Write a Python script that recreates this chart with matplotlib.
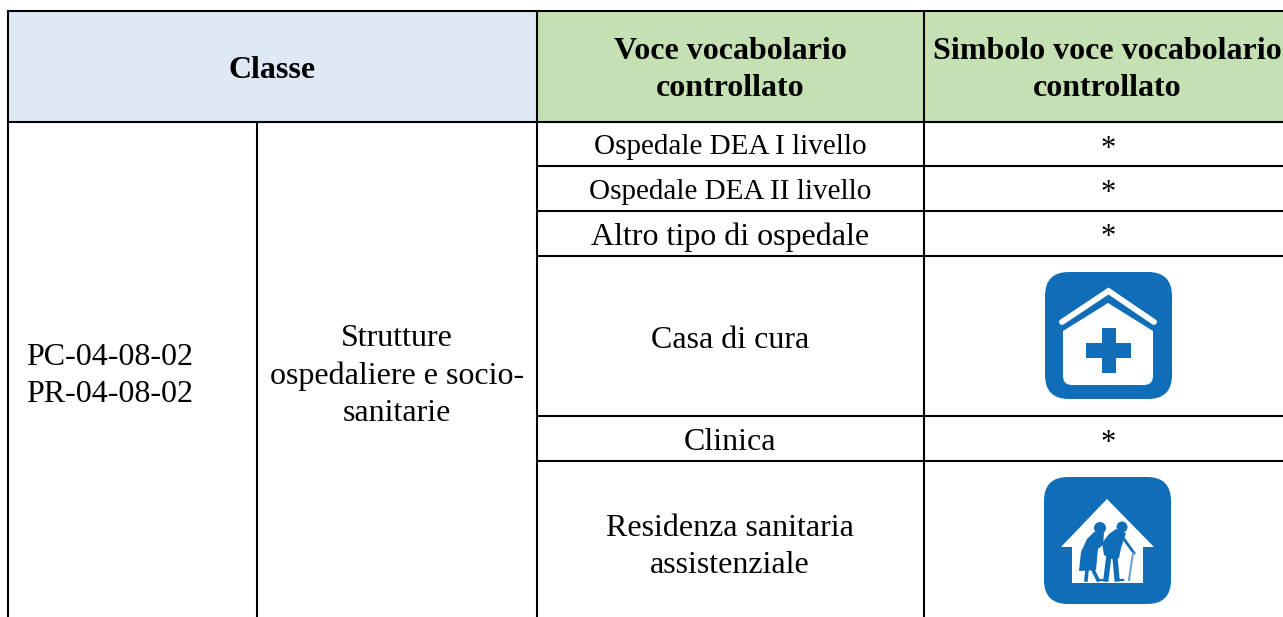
import matplotlib
matplotlib.use('Agg')
import matplotlib.pyplot as plt
from matplotlib.patches import Rectangle, FancyBboxPatch, Polygon, Circle
from matplotlib.lines import Line2D

plt.rcParams['font.family'] = ['Liberation Serif', 'DejaVu Serif']

header_class = "Classe"
header_voice = "Voce vocabolario\ncontrollato"
header_symbol = "Simbolo voce vocabolario\ncontrollato"
codes = "PC-04-08-02\nPR-04-08-02"
category = "Strutture\nospedaliere e socio-\nsanitarie"
voices = ["Ospedale DEA I livello", "Ospedale DEA II livello", "Altro tipo di ospedale",
          "Casa di cura", "Clinica", "Residenza sanitaria\nassistenziale"]
voice_sizes = [21, 21, 23, 23, 23, 23]
voice_y = [147, 192, 237, 340, 442, 547]
symbols = ["*", "*", "*", None, "*", None]
symbol_y = [149, 194, 238, None, 443, None]

BLUE = '#dee9f5'
GREEN = '#c5e0b3'
ICON = '#106db8'
LW = 1.5
LS = 1.37

fig = plt.figure(figsize=(12.83, 6.17), dpi=100)
ax = fig.add_axes([0, 0, 1, 1])
ax.set_xlim(0, 1283)
ax.set_ylim(617, 0)
ax.axis('off')

ax.add_patch(Rectangle((8, 10), 529, 112, fc=BLUE, ec='none'))
ax.add_patch(Rectangle((537, 10), 746, 112, fc=GREEN, ec='none'))

def hl(y, x0, x1, lw=LW):
    ax.add_line(Line2D([x0, x1], [y, y], color='black', lw=lw, solid_capstyle='butt'))
def vl(x, y0, y1, lw=LW):
    ax.add_line(Line2D([x, x], [y0, y1], color='black', lw=lw, solid_capstyle='butt'))

hl(10.5, 7, 1283)
hl(121.5, 7, 1283)
vl(8, 10, 617)
vl(257, 121, 617)
vl(537, 10, 617)
vl(924, 10, 617)
for y in [166, 211, 256, 416, 461]:
    hl(y, 537, 1283)

ax.text(272, 70, header_class, ha='center', va='center', fontsize=23, fontweight='bold')
ax.text(730, 70, header_voice, ha='center', va='center', fontsize=23, fontweight='bold', linespacing=LS)
ax.text(1107, 70, header_symbol, ha='center', va='center', fontsize=23, fontweight='bold', linespacing=LS)
ax.text(26, 376, codes, ha='left', va='center', fontsize=23, linespacing=LS)
ax.text(397, 376, category, ha='center', va='center', fontsize=23, linespacing=LS)

for t, y, s in zip(voices, voice_y, voice_sizes):
    ax.text(730, y, t, ha='center', va='center', fontsize=s, linespacing=LS)
for t, y in zip(symbols, symbol_y):
    if t:
        ax.text(1108, y, t, ha='center', va='center', fontsize=22)

def base(x0, y0, w, h):
    ax.add_patch(FancyBboxPatch((x0 + 22, y0 + 22), w - 44, h - 44,
                                boxstyle='round,pad=22,rounding_size=24', fc=ICON, ec='none'))

# Casa di cura icon
x, y = 1045, 272
base(x, y, 127, 127)
ax.add_line(Line2D([x + 17, x + 63.5, x + 109], [y + 50, y + 19, y + 50], color='white',
                   lw=4.2, solid_capstyle='round', solid_joinstyle='miter'))
ax.add_patch(FancyBboxPatch((x + 18, y + 70), 90, 43, boxstyle='round,pad=0,rounding_size=9',
                            fc='white', ec='none'))
ax.add_patch(Polygon([(x + 18, y + 59), (x + 63, y + 31), (x + 108, y + 59), (x + 108, y + 90), (x + 18, y + 90)],
                     fc='white', ec='none'))
ax.add_patch(Rectangle((x + 57, y + 56), 14, 45, fc=ICON, ec='none'))
ax.add_patch(Rectangle((x + 41, y + 71), 45, 15, fc=ICON, ec='none'))

# Residenza icon
x, y = 1044, 477
base(x, y, 127, 127)
ax.add_patch(Polygon([(x + 17, y + 70), (x + 63, y + 22), (x + 110, y + 70), (x + 99, y + 70),
                      (x + 99, y + 106), (x + 28, y + 106), (x + 28, y + 70)], fc='white', ec='none'))
# woman
ax.add_patch(Circle((x + 56, y + 51), 6, fc=ICON, ec='none'))
ax.add_patch(Polygon([(x + 50, y + 55), (x + 60, y + 56), (x + 59, y + 68), (x + 54, y + 72), (x + 52, y + 93),
                      (x + 35, y + 94), (x + 37, y + 75), (x + 43, y + 62)], fc=ICON, ec='none'))
ax.add_line(Line2D([x + 43, x + 42], [y + 93, y + 103], color=ICON, lw=2.6))
ax.add_line(Line2D([x + 49, x + 54], [y + 93, y + 103], color=ICON, lw=2.6))
# man
ax.add_patch(Circle((x + 78, y + 50), 5.5, fc=ICON, ec='none'))
ax.add_patch(Polygon([(x + 72, y + 52), (x + 82, y + 56), (x + 77, y + 71), (x + 75, y + 81),
                      (x + 70, y + 83), (x + 60, y + 78), (x + 58, y + 66), (x + 65, y + 57)], fc=ICON, ec='none'))
ax.add_line(Line2D([x + 65, x + 62], [y + 78, y + 102], color=ICON, lw=3.8))
ax.add_line(Line2D([x + 71, x + 73], [y + 80, y + 102], color=ICON, lw=3.8))
ax.add_line(Line2D([x + 62, x + 56], [y + 103, y + 103], color=ICON, lw=1.6))
ax.add_line(Line2D([x + 73, x + 79], [y + 103, y + 103], color=ICON, lw=1.6))
ax.add_line(Line2D([x + 77, x + 90], [y + 58, y + 76], color=ICON, lw=2))
ax.add_line(Line2D([x + 89, x + 85], [y + 76, y + 103], color='#6f9fd4', lw=1.5))

fig.savefig('out.png', dpi=100)
